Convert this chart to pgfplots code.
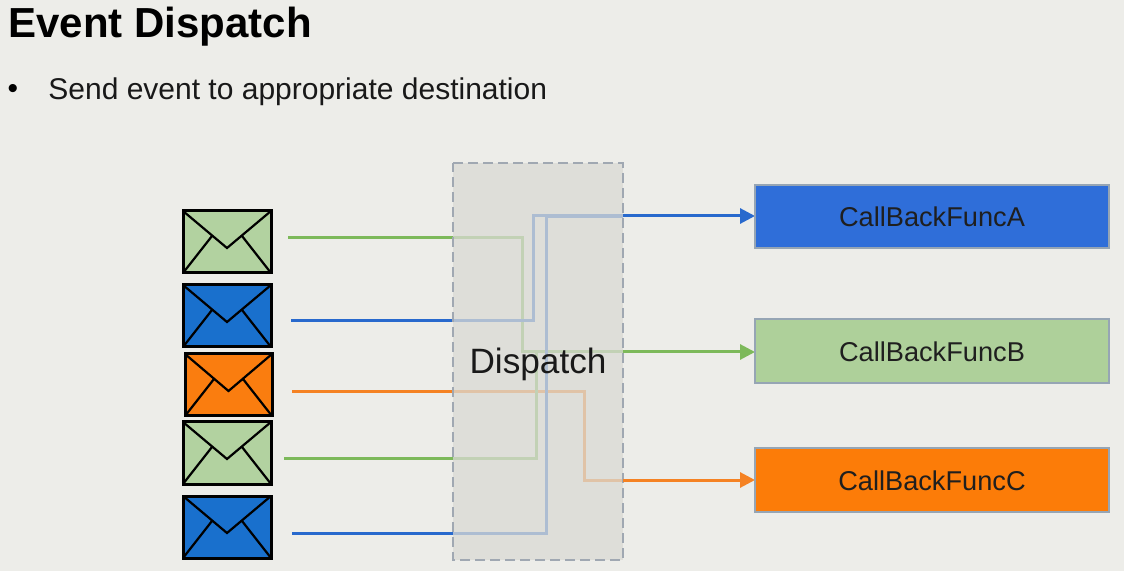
\documentclass[border=0pt]{standalone}
\usepackage{pgfplots}
\pgfplotsset{compat=1.18}
\usepackage{fontspec}
\setmainfont{Liberation Sans}
\usetikzlibrary{arrows.meta}
\definecolor{bg}{RGB}{237,237,233}
\definecolor{boxfill}{RGB}{218,218,212}
\definecolor{dashc}{RGB}{160,168,178}
\definecolor{lgreen}{RGB}{125,185,90}
\definecolor{lblue}{RGB}{40,105,205}
\definecolor{lorange}{RGB}{245,130,35}
\definecolor{egreen}{RGB}{178,210,160}
\definecolor{eblue}{RGB}{25,112,205}
\definecolor{eorange}{RGB}{250,125,15}
\definecolor{cba}{RGB}{47,110,217}
\definecolor{cbb}{RGB}{174,208,154}
\definecolor{cbc}{RGB}{252,124,8}
\definecolor{cbborder}{RGB}{150,165,180}
\begin{document}
\begin{tikzpicture}
\begin{axis}[
  scale only axis, width=562pt, height=285.5pt,
  xmin=0, xmax=1124, ymin=0, ymax=571, y dir=reverse,
  hide axis, clip=false, unbounded coords=jump,
]
% background
\addplot[draw=none, fill=bg] coordinates {(0,0)(1124,0)(1124,571)(0,571)} -- cycle;
% connecting lines (full paths, dispatch box fades them)
\addplot[lgreen, line width=1.5pt] coordinates {(288,238)(522,238)(522,352)(623,352)};
\addplot[lblue, line width=1.5pt] coordinates {(291,321)(533,321)(533,216)(623,216)};
\addplot[lorange, line width=1.5pt] coordinates {(292,392)(584,392)(584,480)(623,480)};
\addplot[lgreen, line width=1.5pt] coordinates {(284,458)(536,458)(536,352)(623,352)};
\addplot[lblue, line width=1.5pt] coordinates {(292,533)(546,533)(546,217)(623,217)};
% dispatch box
\addplot[draw=none, fill=boxfill, fill opacity=0.75] coordinates {(453,163)(623,163)(623,560)(453,560)} -- cycle;
\addplot[dashc, line width=1.1pt, dash pattern=on 5pt off 2.5pt] coordinates {(453,163)(623,163)(623,560)(453,560)(453,163)};
\node[anchor=center, font=\fontsize{17.6}{20}\selectfont, text=black!90] at (axis cs:538,364) {Dispatch};
% arrows
\addplot[lblue, line width=1.5pt, -{Triangle[length=7.5pt,width=7.5pt]}] coordinates {(623,216)(755,216)};
\addplot[lgreen, line width=1.5pt, -{Triangle[length=7.5pt,width=7.5pt]}] coordinates {(623,352)(755,352)};
\addplot[lorange, line width=1.5pt, -{Triangle[length=7.5pt,width=7.5pt]}] coordinates {(623,480)(755,480)};
% callback boxes
\addplot[draw=cbborder, line width=1pt, fill=cba] coordinates {(755,185)(1109,185)(1109,248)(755,248)} -- cycle;
\addplot[draw=cbborder, line width=1pt, fill=cbb] coordinates {(755,319)(1109,319)(1109,383)(755,383)} -- cycle;
\addplot[draw=cbborder, line width=1pt, fill=cbc] coordinates {(755,448)(1109,448)(1109,512)(755,512)} -- cycle;
\node[font=\fontsize{13.6}{16}\selectfont, text=black!88] at (axis cs:932,217) {CallBackFuncA};
\node[font=\fontsize{13.6}{16}\selectfont, text=black!88] at (axis cs:932,352) {CallBackFuncB};
\node[font=\fontsize{13.6}{16}\selectfont, text=black!88] at (axis cs:932,481) {CallBackFuncC};
% envelopes
\addplot[draw=black, line width=1.5pt, fill=egreen] coordinates {(183,211)(271,211)(271,273)(183,273)} -- cycle;
\addplot[black, line width=1.1pt] coordinates {(183,211)(227,248)(271,211)(nan,nan)(183,273)(212,236)(nan,nan)(271,273)(242,236)};
\addplot[draw=black, line width=1.5pt, fill=eblue] coordinates {(183,285)(271,285)(271,347)(183,347)} -- cycle;
\addplot[black, line width=1.1pt] coordinates {(183,285)(227,322)(271,285)(nan,nan)(183,347)(212,310)(nan,nan)(271,347)(242,310)};
\addplot[draw=black, line width=1.5pt, fill=eorange] coordinates {(185,354)(272,354)(272,416)(185,416)} -- cycle;
\addplot[black, line width=1.1pt] coordinates {(185,354)(228.5,391)(272,354)(nan,nan)(185,416)(214,379)(nan,nan)(272,416)(243,379)};
\addplot[draw=black, line width=1.5pt, fill=egreen] coordinates {(183,422)(271,422)(271,484)(183,484)} -- cycle;
\addplot[black, line width=1.1pt] coordinates {(183,422)(227,459)(271,422)(nan,nan)(183,484)(212,447)(nan,nan)(271,484)(242,447)};
\addplot[draw=black, line width=1.5pt, fill=eblue] coordinates {(183,496)(271,496)(271,558)(183,558)} -- cycle;
\addplot[black, line width=1.1pt] coordinates {(183,496)(227,533)(271,496)(nan,nan)(183,558)(212,521)(nan,nan)(271,558)(242,521)};
% title and bullet
\node[anchor=base west, inner sep=0pt, font=\fontsize{21}{25}\selectfont\bfseries] at (axis cs:8,38) {Event Dispatch};
\node[anchor=center, inner sep=0pt, font=\fontsize{15}{18}\selectfont] at (axis cs:13,92) {\textbullet};
\node[anchor=base west, inner sep=0pt, font=\fontsize{15}{18}\selectfont, text=black!90] at (axis cs:48,100) {Send event to appropriate destination};
\end{axis}
\end{tikzpicture}
\end{document}
